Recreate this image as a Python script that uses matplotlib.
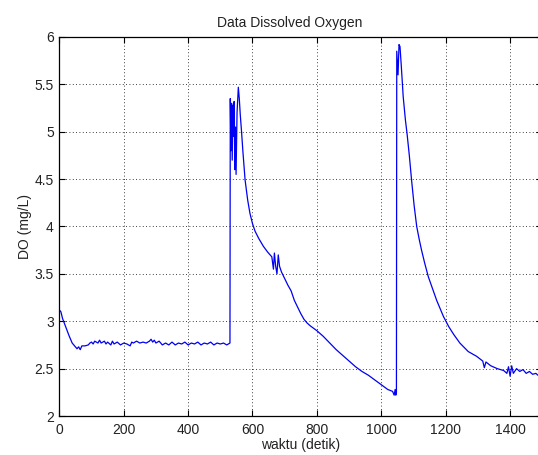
import matplotlib
matplotlib.use("Agg")
import matplotlib.pyplot as plt

plt.rcParams['font.family'] = ['Liberation Sans', 'DejaVu Sans']

title = "Data Dissolved Oxygen"
xlabel = "waktu (detik)"
ylabel = "DO (mg/L)"

xticks = [0, 200, 400, 600, 800, 1000, 1200, 1400]
xticklabels = ["0", "200", "400", "600", "800", "1000", "1200", "1400"]
yticks = [2, 2.5, 3, 3.5, 4, 4.5, 5, 5.5, 6]
yticklabels = ["2", "2.5", "3", "3.5", "4", "4.5", "5", "5.5", "6"]

# baseline phase (0-530 s)
t_base = [0, 5, 10, 20, 30, 40, 50, 55, 60, 65, 70, 80, 90, 95, 100, 105, 110, 120,
          125, 130, 140, 145, 150, 160, 165, 170, 180, 190, 200, 210, 220, 225, 230,
          240, 250, 260, 270, 280, 285, 290, 295, 300, 310, 320, 330, 340, 350, 360,
          370, 380, 390, 400, 410, 420, 430, 440, 450, 460, 470, 480, 490, 500, 510,
          520, 530]
do_base = [3.12, 3.10, 3.03, 2.94, 2.85, 2.77, 2.73, 2.71, 2.73, 2.70, 2.74, 2.74, 2.75,
           2.77, 2.78, 2.76, 2.79, 2.77, 2.80, 2.77, 2.79, 2.76, 2.78, 2.75, 2.79, 2.76,
           2.78, 2.75, 2.77, 2.76, 2.74, 2.78, 2.77, 2.79, 2.77, 2.78, 2.77, 2.79, 2.81,
           2.78, 2.80, 2.77, 2.79, 2.75, 2.77, 2.75, 2.78, 2.75, 2.77, 2.76, 2.78, 2.75,
           2.77, 2.76, 2.78, 2.75, 2.77, 2.76, 2.78, 2.75, 2.77, 2.76, 2.77, 2.75, 2.77]

# first aeration peak and decay (531-1047 s)
t_peak1 = [531, 533, 535, 537, 539, 541, 543, 545, 547, 549, 552, 556, 559, 562, 566,
           570, 574, 577, 585, 592, 600, 608, 620, 634, 647, 660, 665, 668, 672, 676,
           680, 684, 690, 700, 710, 720, 730, 740, 750, 760, 770, 780, 800, 820, 840,
           860, 880, 900, 920, 940, 960, 980, 1000, 1020, 1035, 1040, 1043, 1045, 1047]
do_peak1 = [5.35, 4.80, 5.30, 4.70, 5.28, 4.95, 5.32, 4.60, 5.05, 4.55, 5.20, 5.47, 5.35,
            5.18, 5.00, 4.80, 4.62, 4.49, 4.28, 4.14, 4.03, 3.95, 3.87, 3.79, 3.73, 3.68,
            3.55, 3.72, 3.58, 3.50, 3.70, 3.58, 3.52, 3.45, 3.38, 3.32, 3.22, 3.15, 3.08,
            3.02, 2.98, 2.95, 2.90, 2.84, 2.77, 2.70, 2.64, 2.58, 2.52, 2.47, 2.43, 2.38,
            2.33, 2.28, 2.26, 2.22, 2.28, 2.22, 2.25]

# second aeration peak and decay (1048-1500 s)
t_peak2 = [1048, 1052, 1055, 1058, 1062, 1068, 1075, 1080, 1087, 1094, 1102, 1110, 1118,
           1125, 1135, 1146, 1172, 1193, 1210, 1225, 1244, 1270, 1296, 1315, 1320, 1325,
           1340, 1360, 1380, 1390, 1395, 1400, 1405, 1410, 1420, 1430, 1440, 1450, 1460,
           1470, 1480, 1490, 1500]
do_peak2 = [5.85, 5.60, 5.92, 5.90, 5.70, 5.37, 5.12, 4.98, 4.75, 4.49, 4.22, 4.00, 3.86,
            3.75, 3.61, 3.47, 3.22, 3.05, 2.94, 2.86, 2.77, 2.68, 2.63, 2.58, 2.51, 2.57,
            2.53, 2.50, 2.48, 2.45, 2.52, 2.42, 2.53, 2.45, 2.50, 2.47, 2.49, 2.45, 2.47,
            2.44, 2.45, 2.42, 2.43]

t = t_base + t_peak1 + t_peak2
do = do_base + do_peak1 + do_peak2

W, H = 538, 455
fig = plt.figure(figsize=(W / 100, H / 100), dpi=100)
left, right, bottom, top = 59.3, 542.3, 416, 37
ax = fig.add_axes([left / W, (H - bottom) / H, (right - left) / W, (bottom - top) / H])

ax.plot(t, do, color=(0, 0, 0.95), linewidth=0.9)
ax.set_xlim(0, 1500)
ax.set_ylim(2, 6)
ax.set_xticks(xticks)
ax.set_xticklabels(xticklabels)
ax.set_yticks(yticks)
ax.set_yticklabels(yticklabels)
ax.grid(True, color='black', linestyle=(0, (1, 3)), linewidth=0.6)
ax.tick_params(direction='in', top=True, right=True, length=4, width=0.8,
               labelsize=10, colors='black', labelcolor='#222222')
ax.tick_params(axis='x', pad=5)
ax.tick_params(axis='y', pad=4)
for s in ax.spines.values():
    s.set_linewidth(0.9)
ax.set_title(title, fontsize=10, color='#222222', pad=7, x=0.4766)
ax.set_xlabel(xlabel, fontsize=10, color='#222222', labelpad=1)
ax.set_ylabel(ylabel, fontsize=10, color='#222222', labelpad=2)

fig.savefig("out.png", dpi=100)
